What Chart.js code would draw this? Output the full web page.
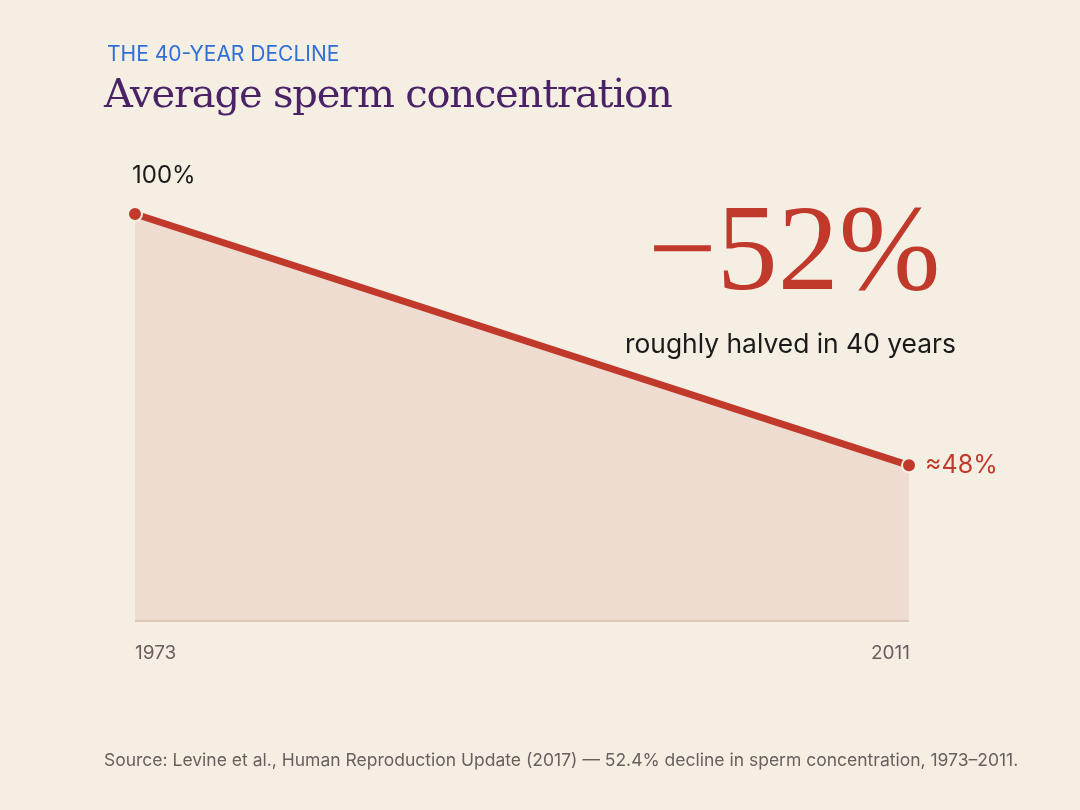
<!DOCTYPE html>
<html>
<head>
<meta charset="utf-8">
<script src="https://cdn.jsdelivr.net/npm/chart.js@4"></script>
<style>
  body { margin: 0; background: #f5eee3; font-family: 'Inter', sans-serif; }
  #wrap { position: relative; width: 1080px; height: 810px; overflow: hidden; }
  canvas { position: absolute; left: 0; top: 0; }
  .t { position: absolute; white-space: nowrap; }
</style>
</head>
<body>
<div id="wrap">
  <canvas id="chart" width="1080" height="810"></canvas>
  <div class="t" style="left:107px;top:41px;font-size:21px;color:#2f6fd6;">THE 40-YEAR DECLINE</div>
  <div class="t" style="left:104px;top:70px;font-size:40px;color:#4a2366;font-family:'DejaVu Serif',serif;letter-spacing:-1.2px;">Average sperm concentration</div>
  <div class="t" style="left:132px;top:160px;font-size:24px;color:#1a1a1a;">100%</div>
  <div class="t" style="left:648px;top:178px;font-size:122px;color:#c0392b;font-family:'Liberation Serif',serif;">−52%</div>
  <div class="t" style="left:625px;top:327px;font-size:26.4px;color:#1a1a1a;">roughly halved in 40 years</div>
  <div class="t" style="left:925px;top:449px;font-size:25px;color:#c0392b;">≈48%</div>
  <div class="t" style="left:135px;top:641px;font-size:19px;color:#6b5e5e;">1973</div>
  <div class="t" style="left:871px;top:641px;font-size:19px;color:#6b5e5e;">2011</div>
  <div class="t" style="left:104px;top:749px;font-size:17.5px;color:#6b5e5e;">Source: Levine et al., Human Reproduction Update (2017) — 52.4% decline in sperm concentration, 1973–2011.</div>
</div>
<script>
// data
const years = [1973, 2011];
const values = [100, 48];

const ctx = document.getElementById('chart').getContext('2d');
new Chart(ctx, {
    type: 'line',
    data: {
        datasets: [{
            data: years.map((y, i) => ({ x: y, y: values[i] })),
            borderColor: '#c0392b',
            borderWidth: 7,
            backgroundColor: 'rgba(213,160,140,0.22)',
            fill: 'start',
            pointRadius: 7,
            pointBackgroundColor: '#c0392b',
            pointBorderColor: '#f5eee3',
            pointBorderWidth: 2,
            clip: false,
            tension: 0
        }]
    },
    options: {
        responsive: false,
        animation: false,
        layout: { padding: { left: 135, right: 171, top: 214, bottom: 190 } },
        plugins: { legend: { display: false }, tooltip: { enabled: false } },
        scales: {
            x: { type: 'linear', min: 1973, max: 2011, display: false },
            y: { min: 16, max: 100, display: false }
        }
    },
    plugins: [{
        id: 'baseline',
        afterDatasetsDraw(chart) {
            const a = chart.chartArea, c = chart.ctx;
            c.save();
            c.strokeStyle = '#d2b8aa';
            c.lineWidth = 1.5;
            c.beginPath();
            c.moveTo(a.left, a.bottom + 1);
            c.lineTo(a.right, a.bottom + 1);
            c.stroke();
            c.restore();
        }
    }]
});
</script>
</body>
</html>
